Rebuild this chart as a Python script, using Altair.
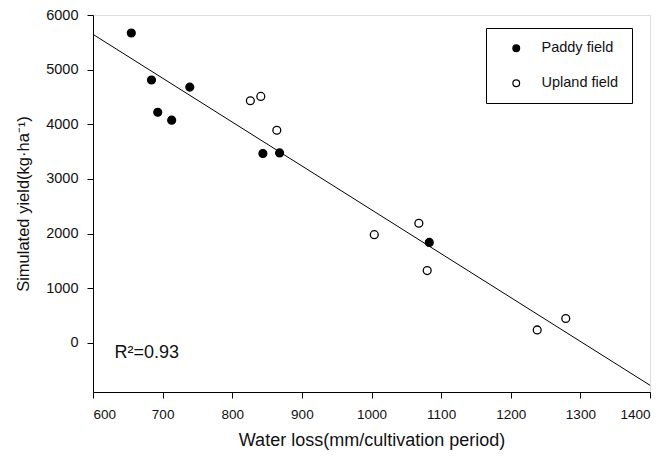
import altair as alt
import pandas as pd

# Data
paddy_x = [655, 684, 693, 713, 739, 844, 868, 1083]
paddy_y = [5670, 4810, 4220, 4075, 4680, 3465, 3475, 1838]
upland_x = [826, 841, 864, 1004, 1068, 1080, 1238, 1279]
upland_y = [4430, 4510, 3890, 1980, 2188, 1322, 236, 445]
fit_x = [600, 1400]
fit_y = [5646, -777]
x_ticks = [600, 700, 800, 900, 1000, 1100, 1200, 1300, 1400]
y_ticks = [0, 1000, 2000, 3000, 4000, 5000, 6000]
annot_x = [631]
annot_y = [-185]
annot_text = ["R\u00b2=0.93"]

pts = pd.DataFrame({
    "x": paddy_x + upland_x,
    "y": paddy_y + upland_y,
    "type": ["Paddy field"] * len(paddy_x) + ["Upland field"] * len(upland_x),
})
fit = pd.DataFrame({"x": fit_x, "y": fit_y})
ann = pd.DataFrame({"x": annot_x, "y": annot_y, "t": annot_text})

FONT = "Liberation Sans"

xscale = alt.Scale(domain=[600, 1400], nice=False, zero=False)
yscale = alt.Scale(domain=[-900, 6000], nice=False, zero=False)

xaxis = alt.Axis(values=x_ticks, title="Water loss(mm/cultivation period)", grid=False,
                 format="d", labelFontSize=13.5, titleFontSize=18, titlePadding=11,
                 labelPadding=9, tickSize=6, domainColor="black", tickColor="black",
                 labelColor="#111", titleColor="#111", labelFont=FONT, titleFont=FONT,
                 titleFontWeight="normal")
yaxis = alt.Axis(values=y_ticks, title="Simulated yield(kg\u00b7ha\u207b\u00b9)", grid=False,
                 format="d", labelFontSize=14.5, titleFontSize=16.5, titlePadding=14,
                 labelPadding=9, tickSize=6, domainColor="black", tickColor="black",
                 labelColor="#111", titleColor="#111", labelFont=FONT, titleFont=FONT,
                 titleFontWeight="normal")

points = alt.Chart(pts).mark_point(filled=False, size=62, strokeWidth=1.3, stroke="black", opacity=1).encode(
    x=alt.X("x:Q", scale=xscale, axis=xaxis),
    y=alt.Y("y:Q", scale=yscale, axis=yaxis),
    fill=alt.Fill("type:N", scale=alt.Scale(domain=["Paddy field", "Upland field"], range=["black", "white"]),
                  legend=alt.Legend(title=None, orient="none", legendX=393, legendY=13,
                                    padding=13, rowPadding=20, strokeColor="black",
                                    symbolStrokeColor="black", symbolStrokeWidth=1.2,
                                    symbolSize=45, symbolOffset=10, labelOffset=18,
                                    labelFontSize=14.5, labelFont=FONT, labelColor="#111",
                                    symbolType="circle")),
)

line = alt.Chart(fit).mark_line(color="black", strokeWidth=1).encode(
    x=alt.X("x:Q", scale=xscale),
    y=alt.Y("y:Q", scale=yscale),
)

text = alt.Chart(ann).mark_text(align="left", baseline="middle", fontSize=18, font=FONT, color="#111").encode(
    x=alt.X("x:Q", scale=xscale),
    y=alt.Y("y:Q", scale=yscale),
    text="t:N",
)

chart = alt.layer(line, points, text).properties(
    width=557, height=377,
    autosize=alt.AutoSizeParams(type="none"),
    padding={"left": 93, "top": 15, "right": 16, "bottom": 65},
).configure_view(stroke="#444", strokeWidth=1.5).configure(background="white")

chart.save("out.html", embed_options={"renderer": "svg", "actions": False})
